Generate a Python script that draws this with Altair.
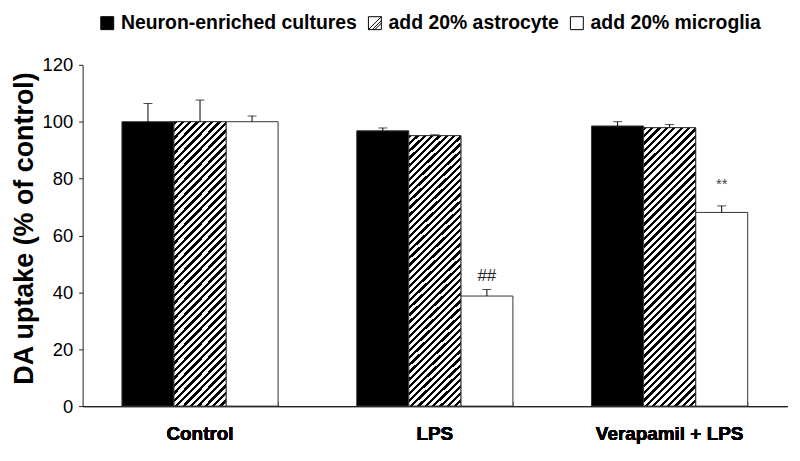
import altair as alt
import pandas as pd

# ---- data ----
categories = ["Control", "LPS", "Verapamil + LPS"]
groups = ["Neuron-enriched cultures", "add 20% astrocyte", "add 20% microglia"]

neuron = [100.0, 96.8, 98.5]
neuron_err = [6.4, 1.0, 1.5]
astro = [100.0, 95.1, 97.9]
astro_err = [7.6, 0.3, 1.1]
micro = [100.0, 38.7, 68.1]
micro_err = [2.0, 2.3, 2.3]
micro_marks = ["", "##", "**"]

rows = []
for gi, (vals, errs) in enumerate([(neuron, neuron_err), (astro, astro_err), (micro, micro_err)]):
    for ci, cat in enumerate(categories):
        rows.append({
            "category": cat,
            "group": groups[gi],
            "value": vals[ci],
            "top": vals[ci] + errs[ci],
            "ann": micro_marks[ci] if gi == 2 else "",
        })
df = pd.DataFrame(rows)

FONT = "Liberation Sans"
W, H = 708, 343

# ---- diagonal hatch as a hard-stop linear gradient ----
bw = W / 3 * (1 - 0.335) / 3  # sub-bar width in px (styling only)
bh = 280.0
a = (bw + bh) * bw / (bw ** 2 + bh ** 2)
b = a * bh / bw
n_stripes = int(round((bw + bh) / 7.4))
frac_black = 0.45
stops = []
for k in range(n_stripes):
    s = k / n_stripes
    m = (k + frac_black) / n_stripes
    e = (k + 1) / n_stripes
    stops += [
        alt.GradientStop(offset=s, color="black"),
        alt.GradientStop(offset=m, color="black"),
        alt.GradientStop(offset=m, color="white"),
        alt.GradientStop(offset=e, color="white"),
    ]
hatch = alt.LinearGradient(gradient="linear", x1=0, y1=0, x2=a, y2=b, stops=stops)

x_scale = alt.Scale(paddingInner=0.335, paddingOuter=0.1675)
xo = alt.XOffset("group:N", sort=groups,
                 scale=alt.Scale(domain=groups, paddingInner=0, paddingOuter=0))
y_scale = alt.Scale(domain=[0, 120], nice=False)

bottom_axis = alt.Axis(orient="bottom", labelAngle=0, ticks=False, tickSize=0,
                       labelFont=FONT, labelFontSize=19, labelFontWeight="bold",
                       labelColor="black", labelPadding=19,
                       domainColor="#222", domainWidth=1)
top_axis = alt.Axis(orient="top", offset=-H, labels=False, domain=False,
                    tickBand="extent", tickSize=5, tickColor="#222", tickWidth=1)
x_bottom = alt.X("category:N", sort=categories, scale=x_scale, title=None, axis=bottom_axis)
x_top = alt.X("category:N", sort=categories, scale=x_scale, title=None, axis=top_axis)

y_ax = alt.Axis(values=[0, 20, 40, 60, 80, 100, 120], grid=False,
                tickSize=4, tickColor="#222", domainColor="#222",
                labelFont=FONT, labelFontSize=18.5, labelColor="black",
                labelPadding=6,
                titleFont=FONT, titleFontSize=27, titleFontWeight="bold",
                titleColor="black", titlePadding=4, titleY=164)
Y_TITLE = "DA uptake (% of control)"
y_val = alt.Y("value:Q", scale=y_scale, title=Y_TITLE, axis=y_ax)
y_top = alt.Y("top:Q", scale=y_scale, title=Y_TITLE, axis=y_ax)

base = alt.Chart(df)

sq = "M-1,-1H1V1H-1Z"
hatch_sym = "M-1,-1H1V1H-1Z M-1,1L1,-1 M0,1L1,0 M-0.4,1L1,-0.4"
legend_kw = dict(orient="none", legendX=11, legendY=-52, direction="horizontal",
                 title=None, labelFont=FONT, labelFontSize=19.5, labelFontWeight="bold",
                 labelColor="black", labelLimit=400, symbolSize=169,
                 symbolStrokeWidth=1, symbolOffset=4,
                 columnPadding=4, padding=0)
# legend carrier: small points sitting low inside the bars, painted over by the bars
legend_pts = base.mark_point(filled=True, opacity=1, strokeWidth=1, size=100).encode(
    x=x_bottom, xOffset=xo, y=alt.Y(datum=12, scale=y_scale, title=Y_TITLE, axis=y_ax),
    fill=alt.Fill("group:N", sort=groups,
                  scale=alt.Scale(domain=groups, range=["black", "white", "white"]),
                  legend=alt.Legend(**legend_kw)),
    stroke=alt.Stroke("group:N", sort=groups,
                      scale=alt.Scale(domain=groups, range=["black", "black", "black"]),
                      legend=alt.Legend(**legend_kw)),
    shape=alt.Shape("group:N", sort=groups,
                    scale=alt.Scale(domain=groups, range=[sq, hatch_sym, sq]),
                    legend=alt.Legend(**legend_kw)),
)

bars = base.mark_bar(stroke="#333", strokeWidth=1).encode(
    x=x_bottom, xOffset=xo, y=y_val,
    fill=alt.condition(alt.datum.group == groups[0], alt.value("black"), alt.value("white")),
)

hatched = base.transform_filter(alt.datum.group == groups[1]).mark_bar(
    fill=hatch, stroke="#333", strokeWidth=1
).encode(x=x_bottom, xOffset=xo, y=y_val)

err_rule = base.mark_rule(color="black", strokeWidth=1).encode(
    x=x_top, xOffset=xo, y=y_val, y2="top:Q"
)
err_cap = base.mark_tick(color="black", size=9, thickness=1).encode(
    x=x_bottom, xOffset=xo, y=y_top
)

ann_hash = base.transform_filter(alt.datum.ann == "##").mark_text(
    font=FONT, fontSize=17, color="#222", baseline="alphabetic", dy=-9
).encode(x=x_bottom, xOffset=xo, y=y_top, text="ann:N")

ann_star = base.transform_filter(alt.datum.ann == "**").mark_text(
    font=FONT, fontSize=15, color="#444", baseline="alphabetic", dy=-17
).encode(x=x_bottom, xOffset=xo, y=y_top, text="ann:N")

chart = alt.layer(legend_pts, bars, hatched, err_rule, err_cap, ann_hash, ann_star).properties(
    width=W, height=H,
    autosize=alt.AutoSizeParams(type="none"),
    padding={"left": 75, "top": 56, "right": 5, "bottom": 40},
    background="white",
).configure_view(stroke=None)

chart.save("out.html", embed_options={"renderer": "svg", "actions": False})
